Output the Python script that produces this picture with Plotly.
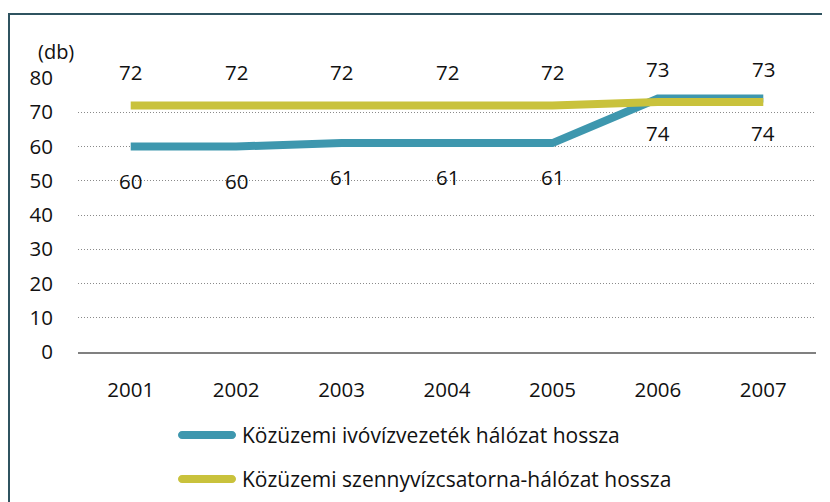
import plotly.graph_objects as go

years = ["2001", "2002", "2003", "2004", "2005", "2006", "2007"]
ivoviz = [60, 60, 61, 61, 61, 74, 74]
szennyviz = [72, 72, 72, 72, 72, 73, 73]
name_ivoviz = "Közüzemi ivóvízvezeték hálózat hossza"
name_szennyviz = "Közüzemi szennyvízcsatorna-hálózat hossza"
y_ticks = [0, 10, 20, 30, 40, 50, 60, 70, 80]
unit_label = "(db)"

BLUE = "#3e97ae"
YELLOW = "#c9c23c"
FONT = "Open Sans"
FS = 20.5
FS_TXT = 21

OFF = 8  # page body margin
W, H = 830 - OFF, 502 - OFF
# plot area in window pixels: x 78..816, y 78..352
ML, MT = 78 - OFF, 78 - OFF
MR = W - (816 - OFF)
MB = H - (352 - OFF)
PW = W - ML - MR
PH = H - MT - MB


def px_x(px):
    return (px - OFF - ML) / PW


def px_y(py):
    return (H - MB - (py - OFF)) / PH


fig = go.Figure()
fig.add_trace(go.Scatter(x=years, y=ivoviz, mode="lines", name=name_ivoviz,
                         line=dict(color=BLUE, width=8), showlegend=False))
fig.add_trace(go.Scatter(x=years, y=szennyviz, mode="lines", name=name_szennyviz,
                         line=dict(color=YELLOW, width=8), showlegend=False))

annotations = []
for i, v in enumerate(ivoviz):
    annotations.append(dict(x=i, y=v, xref="x", yref="y", text=str(v),
                            showarrow=False, yshift=-34,
                            font=dict(family=FONT, size=FS, color="#111")))
for i, v in enumerate(szennyviz):
    annotations.append(dict(x=i, y=v, xref="x", yref="y", text=str(v),
                            showarrow=False, yshift=33,
                            font=dict(family=FONT, size=FS, color="#111")))

annotations.append(dict(xref="paper", yref="paper", x=px_x(56), y=px_y(51),
                        xanchor="center", yanchor="middle",
                        text=unit_label, showarrow=False,
                        font=dict(family=FONT, size=20, color="#111")))

shapes = []
# frame
shapes.append(dict(type="line", xref="paper", yref="paper",
                   x0=px_x(9), x1=px_x(840), y0=px_y(14), y1=px_y(14),
                   line=dict(color="#2f5360", width=2)))
shapes.append(dict(type="line", xref="paper", yref="paper",
                   x0=px_x(9), x1=px_x(9), y0=px_y(13), y1=px_y(510),
                   line=dict(color="#2f5360", width=2)))

# legend (manual)
capsule = ("M4,-4 L54,-4 C56.2,-4 58,-2.2 58,0 C58,2.2 56.2,4 54,4 "
           "L4,4 C1.8,4 0,2.2 0,0 C0,-2.2 1.8,-4 4,-4 Z")
for name, col, ly in [(name_ivoviz, BLUE, 435), (name_szennyviz, YELLOW, 479)]:
    shapes.append(dict(type="path", xref="paper", yref="paper",
                       xsizemode="pixel", ysizemode="pixel",
                       xanchor=px_x(178), yanchor=px_y(ly), path=capsule,
                       fillcolor=col, line=dict(width=0)))
    annotations.append(dict(xref="paper", yref="paper", x=px_x(240), y=px_y(ly),
                            xanchor="left", yanchor="middle", text=name,
                            showarrow=False,
                            font=dict(family=FONT, size=FS_TXT, color="#111")))

fig.update_layout(
    width=W, height=H,
    margin=dict(l=ML, r=MR, t=MT, b=MB),
    paper_bgcolor="white", plot_bgcolor="white",
    font=dict(family=FONT, size=FS, color="#111"),
    showlegend=False,
    annotations=annotations,
    shapes=shapes,
)
fig.update_xaxes(type="category", range=[-0.5, 6.5], showgrid=False,
                 showline=True, linecolor="#808080", linewidth=2,
                 ticks="", ticklabelstandoff=18,
                 tickfont=dict(family=FONT, size=FS, color="#111"))
fig.update_yaxes(range=[0, 80], tickvals=y_ticks, showgrid=True,
                 gridcolor="#8a8a8a", gridwidth=1, griddash="1px,2px",
                 zeroline=False, ticks="", ticklabelstandoff=24,
                 tickfont=dict(family=FONT, size=FS, color="#111"))

fig.write_html("out.html")
